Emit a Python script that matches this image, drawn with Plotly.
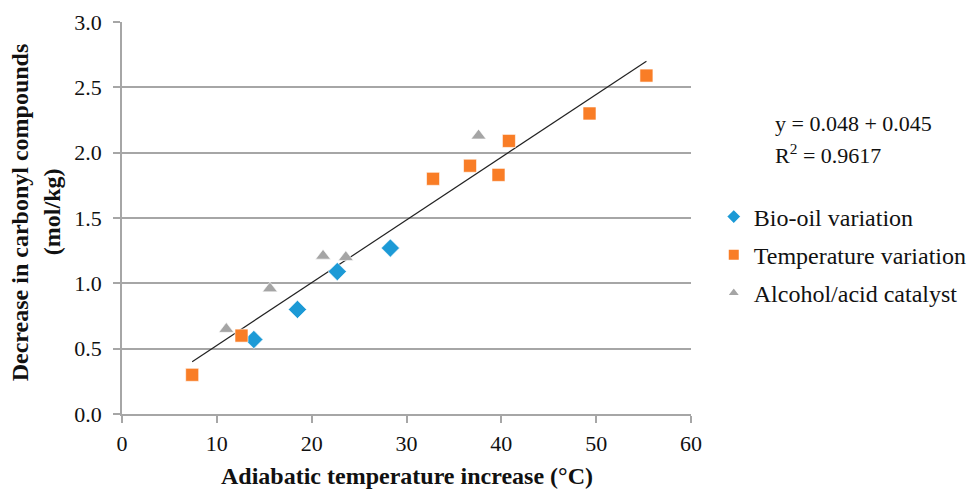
import plotly.graph_objects as go

bio_x = [13.9, 18.5, 22.7, 28.3]
bio_y = [0.57, 0.80, 1.09, 1.27]

temp_x = [7.4, 12.6, 32.8, 36.7, 39.7, 40.8, 49.3, 55.3]
temp_y = [0.30, 0.60, 1.80, 1.90, 1.83, 2.09, 2.30, 2.59]

alc_x = [11.0, 15.6, 21.2, 23.6, 37.6]
alc_y = [0.65, 0.96, 1.21, 1.20, 2.13]

slope = 0.048
intercept = 0.045
r2 = 0.9617

x_ticks = [0, 10, 20, 30, 40, 50, 60]
y_ticks = [0.0, 0.5, 1.0, 1.5, 2.0, 2.5, 3.0]

all_x = bio_x + temp_x + alc_x
x_line = [min(all_x), max(all_x)]
y_line = [intercept + slope * v for v in x_line]

font = "Liberation Serif, Times New Roman, serif"
black = "#111111"
axis_grey = "#A6A6A6"

fig = go.Figure()
fig.add_trace(go.Scatter(x=x_line, y=y_line, mode="lines",
                         line=dict(color="#222222", width=1.2),
                         showlegend=False, hoverinfo="skip"))
fig.add_trace(go.Scatter(x=bio_x, y=bio_y, mode="markers", name="Bio-oil variation",
                         legendgroup="a",
                         marker=dict(symbol="diamond", size=14, color="#1C9AD6",
                                     line=dict(color="white", width=0.6))))
fig.add_trace(go.Scatter(x=temp_x, y=temp_y, mode="markers", name="Temperature variation",
                         legendgroup="b",
                         marker=dict(symbol="square", size=13, color="#F97D26",
                                     line=dict(color="white", width=0.6))))
fig.add_trace(go.Scatter(x=alc_x, y=alc_y, mode="markers", name="Alcohol/acid catalyst",
                         legendgroup="c",
                         marker=dict(symbol="triangle-up", size=13, color="#A5A5A5",
                                     line=dict(color="white", width=0.6))))

fig.add_annotation(xref="paper", yref="paper", x=1.144, y=0.742, xanchor="left", yanchor="middle",
                   text="y = %.3f + %.3f" % (slope, intercept),
                   showarrow=False, font=dict(family=font, size=22, color=black))
fig.add_annotation(xref="paper", yref="paper", x=1.144, y=0.664, xanchor="left", yanchor="middle",
                   text="R<sup>2</sup> = %.4f" % r2,
                   showarrow=False, font=dict(family=font, size=22, color=black))

# axis titles
fig.add_annotation(xref="paper", yref="paper", x=0.5, y=-0.157, xanchor="center", yanchor="middle",
                   text="<b>Adiabatic temperature increase (°C)</b>", showarrow=False,
                   font=dict(family=font, size=24, color=black))
fig.add_annotation(xref="paper", yref="paper", x=-0.179, y=0.515, xanchor="center", yanchor="middle",
                   text="<b>Decrease in carbonyl compounds</b>", showarrow=False, textangle=-90,
                   font=dict(family=font, size=24, color=black))
fig.add_annotation(xref="paper", yref="paper", x=-0.123, y=0.515, xanchor="center", yanchor="middle",
                   text="<b>(mol/kg)</b>", showarrow=False, textangle=-90,
                   font=dict(family=font, size=24, color=black))

fig.update_layout(
    width=972, height=490,
    margin=dict(l=122, r=281, t=22, b=76, autoexpand=False),
    paper_bgcolor="white", plot_bgcolor="white",
    font=dict(family=font, size=22, color=black),
    legend=dict(x=1.04, y=0.56, xanchor="left", yanchor="top",
                font=dict(family=font, size=24, color=black),
                tracegroupgap=4, itemsizing="constant"),
    xaxis=dict(range=[0, 60], tickvals=x_ticks, showgrid=False, zeroline=False,
               showline=True, linecolor=axis_grey, linewidth=1.5,
               ticks="outside", ticklen=7, tickcolor=axis_grey, tickwidth=1.5,
               ticklabelstandoff=2,
               tickfont=dict(family=font, size=22, color=black)),
    yaxis=dict(range=[0, 3.0], tickvals=y_ticks, tickformat=".1f",
               showgrid=True, gridcolor=axis_grey, gridwidth=1.5, zeroline=False,
               showline=True, linecolor=axis_grey, linewidth=1.5,
               ticks="outside", ticklen=7, tickcolor=axis_grey, tickwidth=1.5,
               ticklabelstandoff=7,
               tickfont=dict(family=font, size=22, color=black)),
)

fig.write_html("out.html", config={"displayModeBar": False},
               post_script="document.body.style.margin='0';")
